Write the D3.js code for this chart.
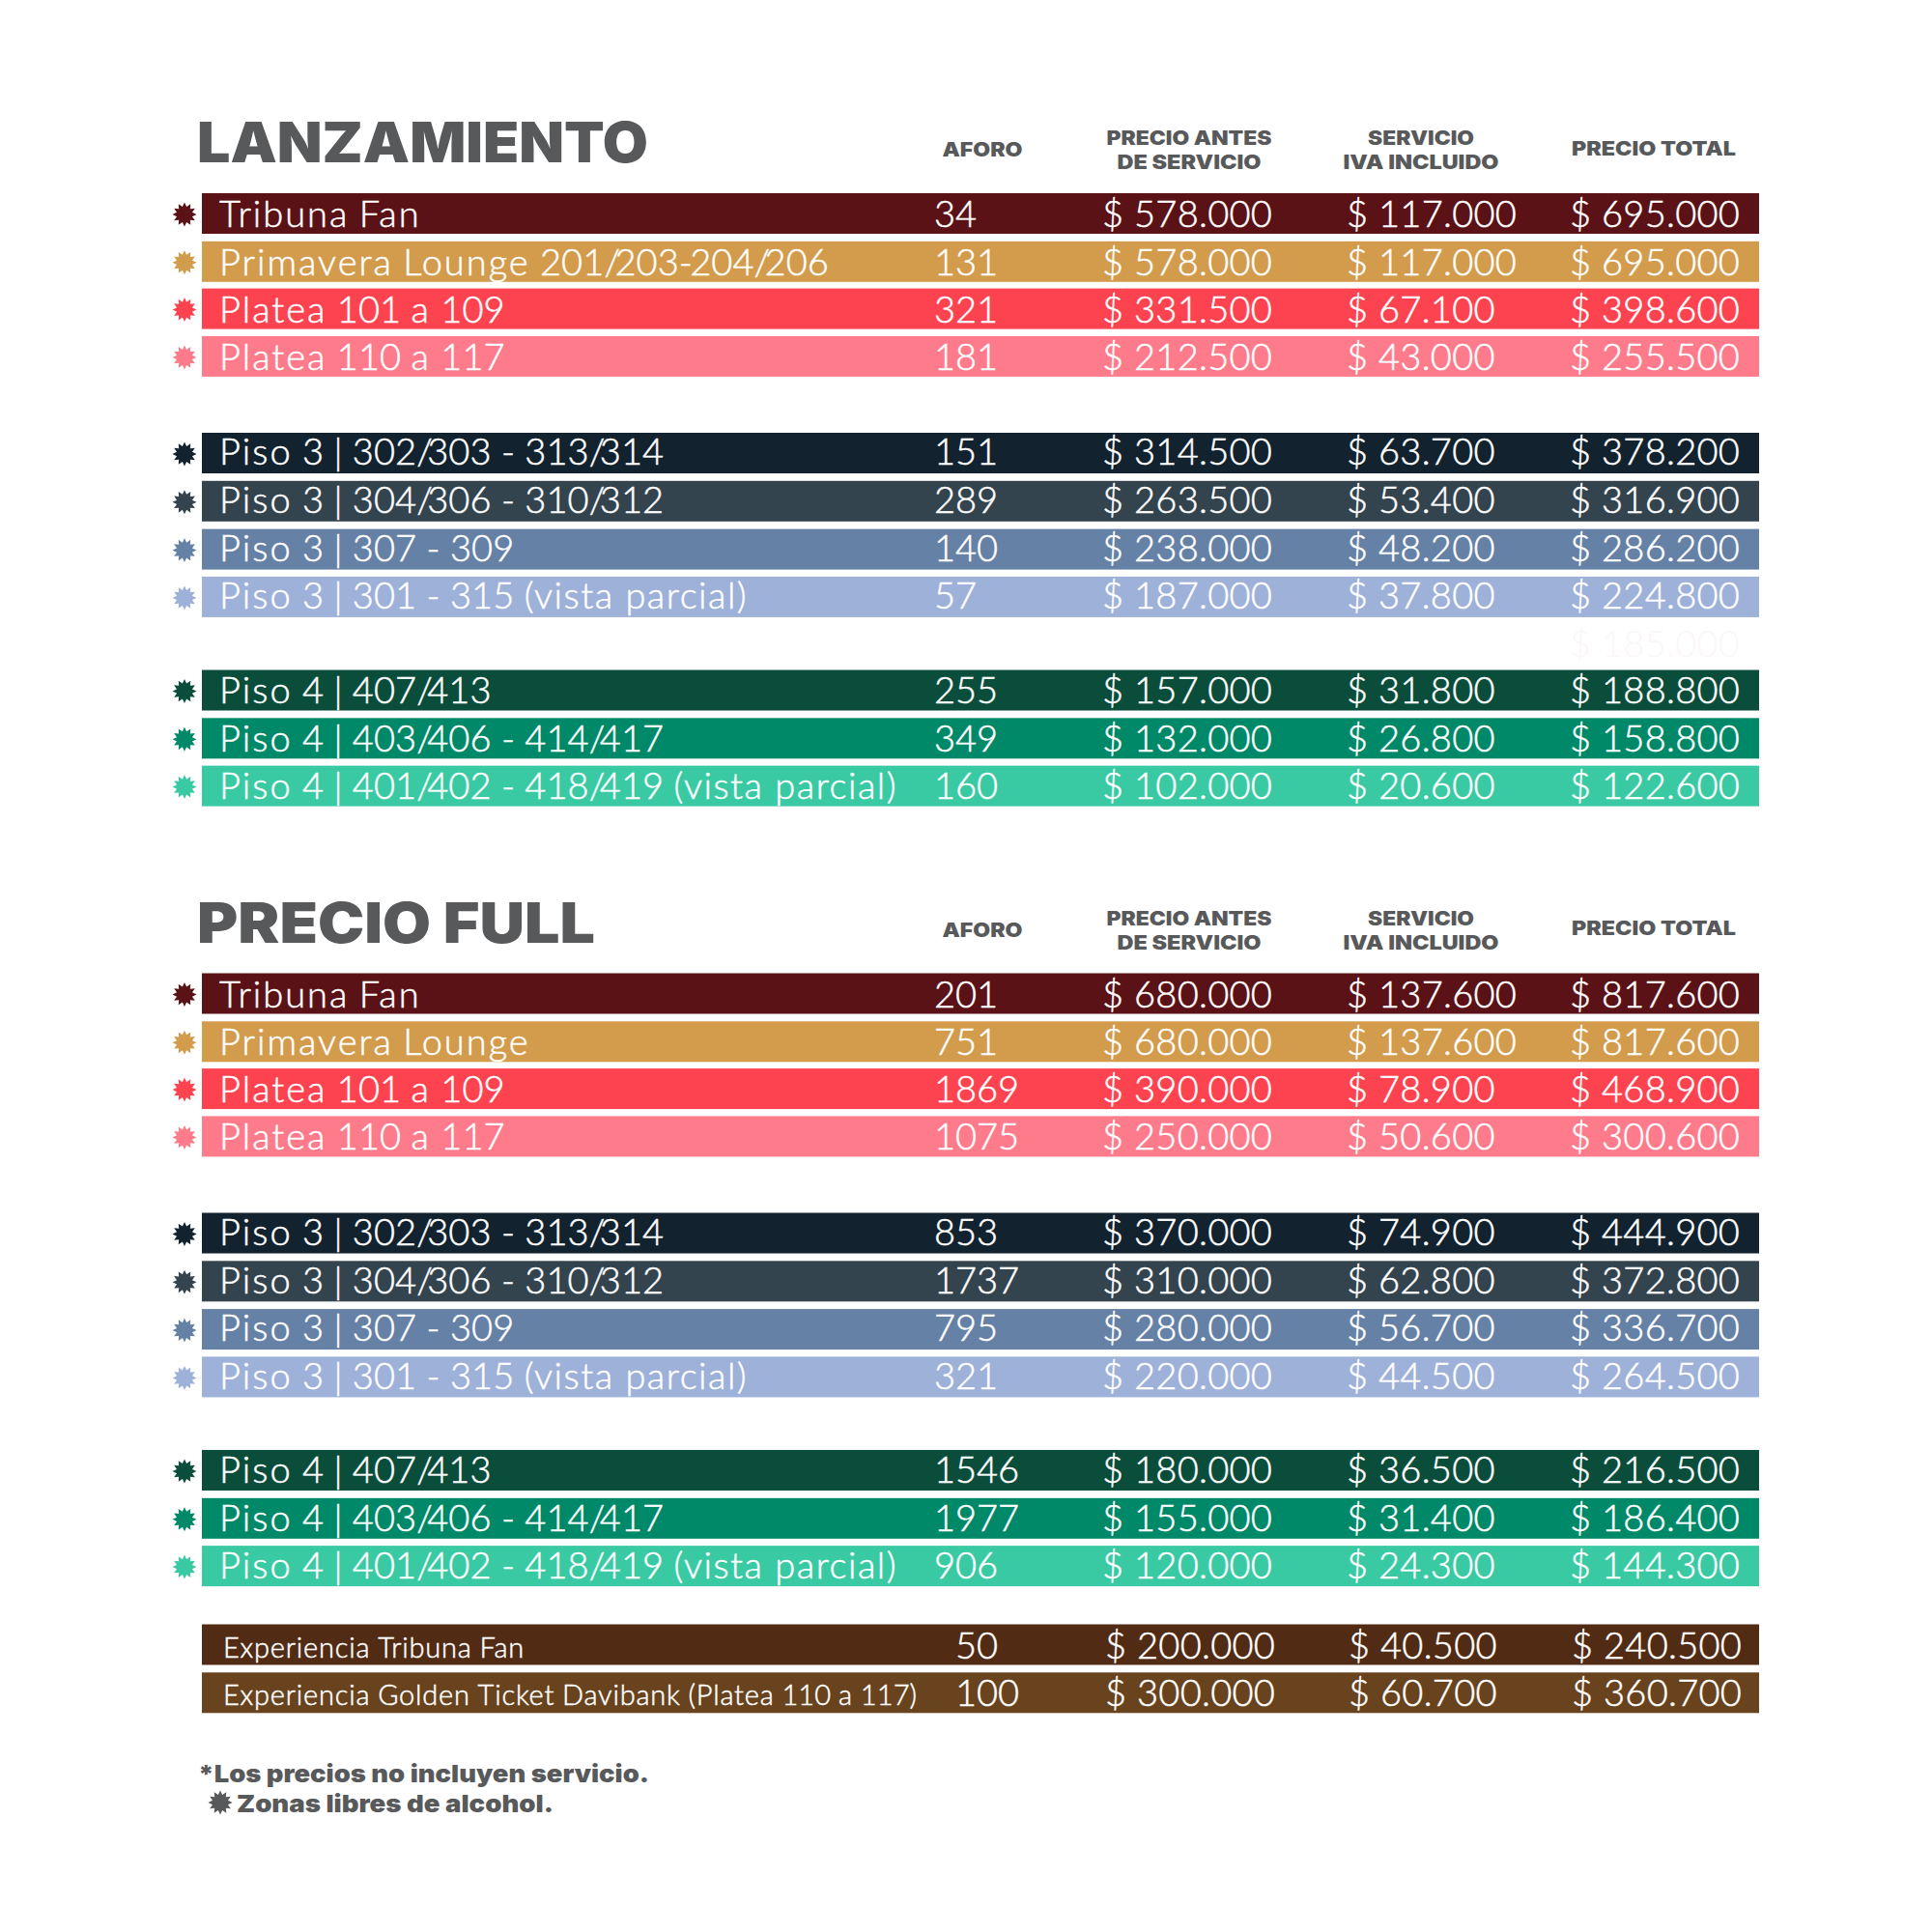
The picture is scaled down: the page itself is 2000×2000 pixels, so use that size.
<!DOCTYPE html>
<html>
<head>
<meta charset="utf-8">
<script src="https://cdn.jsdelivr.net/npm/d3@7"></script>
<style>
  html, body { margin: 0; background: #fff; }
  text { font-family: Lato, sans-serif; }
  .head { font-family: Inter, sans-serif; fill: #58595b; font-weight: 900; }
  .cell { font-weight: 300; fill: #fff; stroke: #fff; stroke-width: 0.5px; }
</style>
</head>
<body>
<svg id="chart" width="2000" height="2000"></svg>
<script>
// zones
const names = ["Tribuna Fan", "Primavera Lounge 201/203-204/206", "Platea 101 a 109", "Platea 110 a 117",
  "Piso 3 | 302/303 - 313/314", "Piso 3 | 304/306 - 310/312", "Piso 3 | 307 - 309", "Piso 3 | 301 - 315 (vista parcial)",
  "Piso 4 | 407/413", "Piso 4 | 403/406 - 414/417", "Piso 4 | 401/402 - 418/419 (vista parcial)"];
const namesFull = names.map(d => d.replace("Lounge 201/203-204/206", "Lounge"));
const colors = ["#5a1216", "#d39b4c", "#fd4350", "#fe7b8b", "#12232f", "#33444f", "#6581a6", "#9db1d9", "#0b4d3b", "#008968", "#3acaa3"];
// row numbers of the table, the poster's rows are not perfectly evenly spaced
const slots = [0, 1, 1.98, 2.97, 4.98, 5.98, 6.98, 7.97, 9.91, 10.91, 11.9];

// lanzamiento
const aforoLanz = [34, 131, 321, 181, 151, 289, 140, 57, 255, 349, 160];
const precioLanz = [578000, 578000, 331500, 212500, 314500, 263500, 238000, 187000, 157000, 132000, 102000];
const servicioLanz = [117000, 117000, 67100, 43000, 63700, 53400, 48200, 37800, 31800, 26800, 20600];
const totalLanz = [695000, 695000, 398600, 255500, 378200, 316900, 286200, 224800, 188800, 158800, 122600];

// precio full
const aforoFull = [201, 751, 1869, 1075, 853, 1737, 795, 321, 1546, 1977, 906];
const precioFull = [680000, 680000, 390000, 250000, 370000, 310000, 280000, 220000, 180000, 155000, 120000];
const servicioFull = [137600, 137600, 78900, 50600, 74900, 62800, 56700, 44500, 36500, 31400, 24300];
const totalFull = [817600, 817600, 468900, 300600, 444900, 372800, 336700, 264500, 216500, 186400, 144300];

// experiencias
const namesExtra = ["Experiencia Tribuna Fan", "Experiencia Golden Ticket Davibank (Platea 110 a 117)"];
const colorsExtra = ["#522b14", "#68431e"];
const aforoExtra = [50, 100];
const precioExtra = [200000, 300000];
const servicioExtra = [40500, 60700];
const totalExtra = [240500, 360700];

const columns = ["aforo", "precio", "servicio", "total"];
const money = d3.formatLocale({ decimal: ",", thousands: ".", grouping: [3], currency: ["$ ", ""] }).format("$,");

const svg = d3.select("#chart");
const rowStep = 49.8, barH = 42, barX = 209, barW = 1612, fontSize = 38, baseline = 35;
const colX = d3.scaleOrdinal(columns, [967, 1141, 1394, 1625]);
const colXExtra = d3.scaleOrdinal(columns, [989, 1144, 1396, 1627]);
const headX = d3.scaleOrdinal(columns, [1017, 1231, 1471, 1712]);

function starPath(r) {
  const pts = d3.range(24).map(i => [i * Math.PI / 12, i % 2 ? r * 0.66 : r]);
  return d3.lineRadial().curve(d3.curveLinearClosed)(pts);
}

// Avenir is wider in the letters and tighter on the slashes than Lato, so space the runs apart
function spacedLabel(sel, letters, digits, slashes) {
  sel.each(function (d) {
    const t = d3.select(this);
    (d.name.match(/\(vista parcial\)|[A-Za-z()]+|[0-9]+| - |[\/-]|[ |]+/g) || []).forEach(run => {
      let sp = 0;
      if (run === "(vista parcial)") sp = letters - 0.5;
      else if (/[A-Za-z()]/.test(run)) sp = letters;
      else if (/[0-9]/.test(run)) sp = digits;
      else if (run === "/") sp = slashes;
      else if (run === "-") sp = slashes / 2;
      t.append("tspan").attr("letter-spacing", sp).text(run);
    });
  });
}

// stretch a bold heading to the width it has in the poster
function fit(sel, w) {
  sel.attr("textLength", w).attr("lengthAdjust", "spacingAndGlyphs");
}

function rows(top, list, xs, labelX, labelSize, labelBase, spacing, stars) {
  const y = d3.scaleLinear().domain([0, 1]).range([top, top + rowStep]);
  const g = svg.append("g").selectAll("g").data(list).join("g")
    .attr("transform", d => `translate(0,${y(d.slot)})`);
  g.append("rect").attr("x", barX).attr("width", barW).attr("height", barH).attr("fill", d => d.color);
  if (stars) {
    g.append("path").attr("d", starPath(12.5)).attr("transform", `translate(191,${barH / 2 + 1})`).attr("fill", d => d.color);
  }
  // text sits a bit high in the middle group of each table
  const lift = d => d.slot > 4 && d.slot < 9 ? 1.8 : d.slot > 9 ? 0.8 : 0;
  g.append("text").attr("class", "cell").attr("x", labelX).attr("y", d => labelBase - lift(d)).attr("font-size", labelSize)
    .call(spacedLabel, spacing[0], spacing[1], spacing[2]);
  columns.forEach(c => {
    g.append("text").attr("class", "cell").attr("x", xs(c)).attr("y", d => baseline - lift(d)).attr("font-size", fontSize)
      .attr("letter-spacing", c === "aforo" ? 0 : 0.3)
      .text(d => c === "aforo" ? d[c] : money(d[c]));
  });
}

function table(top, title, titleW, zones, aforo, precio, servicio, total) {
  svg.append("text").attr("class", "head").attr("x", 204).attr("y", top - 32)
    .attr("font-size", 58).text(title).call(fit, titleW);
  const heads = { aforo: [["AFORO", 83]], precio: [["PRECIO ANTES", 171], ["DE SERVICIO", 149]], servicio: [["SERVICIO", 110], ["IVA INCLUIDO", 161]], total: [["PRECIO TOTAL", 170]] };
  columns.forEach(c => {
    const lines = heads[c];
    const base = lines.length === 2 ? top - 50 : c === "total" ? top - 39.5 : top - 38;
    lines.forEach((t, i) => {
      svg.append("text").attr("class", "head").attr("x", headX(c)).attr("y", base + i * 25)
        .attr("text-anchor", "middle").attr("font-size", 20).text(t[0]).call(fit, t[1]);
    });
  });
  rows(top, zones.map((name, i) => ({
    name, slot: slots[i], color: colors[i],
    aforo: aforo[i], precio: precio[i], servicio: servicio[i], total: total[i]
  })), colX, 227, fontSize, baseline, [2, 0.1, -5.5], true);
}

table(200, "LANZAMIENTO", 467, names, aforoLanz, precioLanz, servicioLanz, totalLanz);
table(1007.5, "PRECIO FULL", 412, namesFull, aforoFull, precioFull, servicioFull, totalFull);

// leftover ghost figure between the floors
svg.append("text").attr("x", colX("total")).attr("y", 200 + 8.93 * rowStep + baseline).attr("font-size", fontSize).attr("font-weight", 300)
  .attr("letter-spacing", 0.3).attr("fill", "#fbf6f8").text(money(185000));

rows(1681.5, namesExtra.map((name, i) => ({
  name, slot: i, color: colorsExtra[i],
  aforo: aforoExtra[i], precio: precioExtra[i], servicio: servicioExtra[i], total: totalExtra[i]
})), colXExtra, 231, 29, 34, [0.8, 0.1, 0], false);

// footnotes
svg.append("text").attr("class", "head").attr("x", 205).attr("y", 1845).attr("font-size", 25)
  .text("*Los precios no incluyen servicio.").call(fit, 467);
svg.append("path").attr("d", starPath(12.5)).attr("transform", "translate(228,1866)").attr("fill", "#58595b");
svg.append("text").attr("class", "head").attr("x", 245).attr("y", 1876).attr("font-size", 25)
  .text("Zonas libres de alcohol.").call(fit, 328);
</script>
</body>
</html>
